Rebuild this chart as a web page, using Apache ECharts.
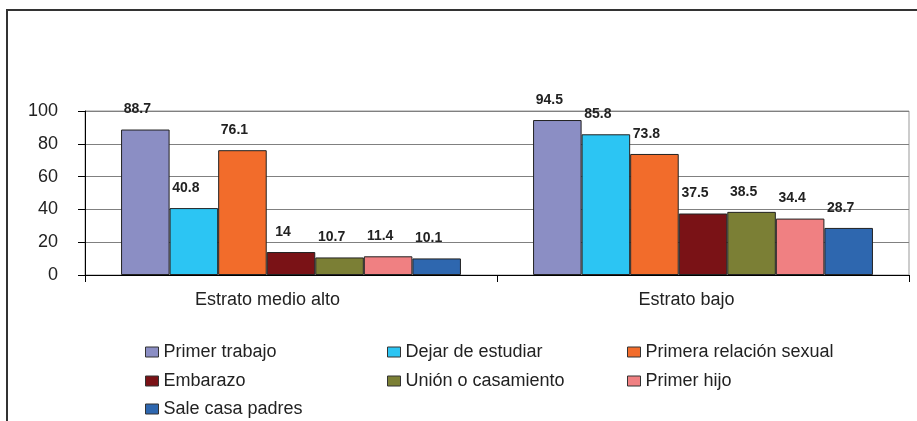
<!DOCTYPE html>
<html>
<head>
<meta charset="utf-8" />
<script src="https://cdn.jsdelivr.net/npm/echarts@6/dist/echarts.min.js"></script>
<style>
  html, body { margin: 0; padding: 0; background: #fff; }
  #chart { width: 917px; height: 421px; }
</style>
</head>
<body>
<div id="chart"></div>
<script type="text/javascript">
// categorias del eje x
var estratos = ['Estrato medio alto', 'Estrato bajo'];
// nombres de las series
var nombres = ['Primer trabajo', 'Dejar de estudiar', 'Primera relación sexual',
  'Embarazo', 'Unión o casamiento', 'Primer hijo', 'Sale casa padres'];
// valores por serie: [medio alto, bajo]
var primerTrabajo = [88.7, 94.5];
var dejarEstudiar = [40.8, 85.8];
var primeraRelacion = [76.1, 73.8];
var embarazo = [14, 37.5];
var union = [10.7, 38.5];
var primerHijo = [11.4, 34.4];
var saleCasa = [10.1, 28.7];
var yTicks = [0, 20, 40, 60, 80, 100];

var valores = [primerTrabajo, dejarEstudiar, primeraRelacion, embarazo, union, primerHijo, saleCasa];
var colores = ['#8B8EC4', '#2CC5F3', '#F26C2B', '#7A1216', '#7B7F35', '#F08082', '#2E67AF'];
var fuente = 'Arial, "Liberation Sans", sans-serif';

var myChart = echarts.init(document.getElementById('chart'));

var series = nombres.map(function (n, i) {
  return {
    name: n,
    type: 'bar',
    data: valores[i],
    barGap: '0%',
    barCategoryGap: '17.5%',
    itemStyle: { color: colores[i], borderColor: '#222', borderWidth: 1 },
    label: {
      show: true,
      position: 'top',
      distance: 13,
      offset: [-8, 0],
      fontFamily: fuente,
      fontWeight: 'bold',
      fontSize: 14,
      color: '#222'
    }
  };
});

// leyenda en 3 columnas
var colX = [145, 387, 627];
var rowY = [343, 372, 400];
var legends = nombres.map(function (n, i) {
  return {
    data: [n],
    left: colX[i % 3],
    top: rowY[Math.floor(i / 3)],
    padding: 0,
    icon: 'rect',
    itemWidth: 13,
    itemHeight: 10,
    itemStyle: { borderColor: '#333', borderWidth: 1 },
    textStyle: { fontFamily: fuente, fontSize: 18, color: '#222' },
    selectedMode: false
  };
});

var option = {
  animation: false,
  graphic: [{
    type: 'rect',
    shape: { x: 7, y: 10, width: 930, height: 430 },
    style: { fill: 'none', stroke: '#333', lineWidth: 2 }
  }],
  legend: legends,
  grid: {
    left: 85, right: 8, top: 111, bottom: 146,
    show: true, borderColor: '#999', borderWidth: 1
  },
  xAxis: {
    type: 'category',
    data: estratos,
    axisLine: { lineStyle: { color: '#000', width: 1 } },
    axisTick: { show: true, length: 7, lineStyle: { color: '#000' } },
    axisLabel: {
      margin: 16,
      formatter: function (v, i) { return '{c' + i + '|' + v + '}'; },
      rich: {
        c0: { fontFamily: fuente, fontSize: 18, color: '#222', padding: [0, 47, 0, 0] },
        c1: { fontFamily: fuente, fontSize: 18, color: '#222', padding: [0, 33, 0, 0] }
      }
    }
  },
  yAxis: {
    type: 'value',
    min: yTicks[0],
    max: yTicks[yTicks.length - 1],
    interval: 20,
    axisLine: { show: true, lineStyle: { color: '#000', width: 1 } },
    axisTick: { show: true, length: 7, lineStyle: { color: '#000' } },
    axisLabel: { fontFamily: fuente, fontSize: 18, color: '#222', margin: 27 },
    splitLine: { lineStyle: { color: '#808080', width: 1 } }
  },
  series: series
};
myChart.setOption(option);
</script>
</body>
</html>
